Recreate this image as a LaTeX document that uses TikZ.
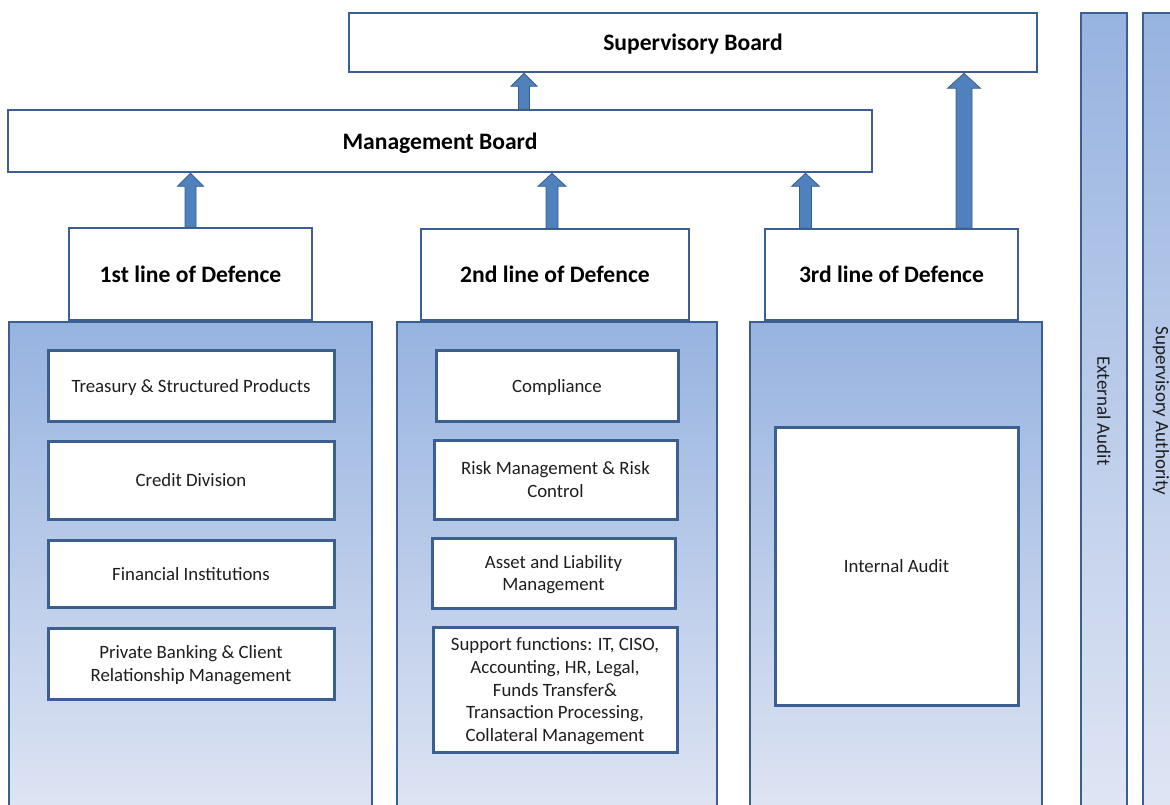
\documentclass[tikz,border=0pt]{standalone}
\usepackage{fontspec}
\setmainfont{Carlito}
\usepackage{tikz}
\usetikzlibrary{calc}

\definecolor{rahmen}{RGB}{60,95,145}
\definecolor{pfeil}{RGB}{79,129,189}
\definecolor{pfeilrand}{RGB}{56,93,138}
\definecolor{verlaufoben}{RGB}{151,179,224}
\definecolor{verlaufunten}{RGB}{226,231,244}
\definecolor{schrift}{RGB}{30,30,30}

\tikzset{
	board/.style={draw=rahmen, line width=2.6pt, fill=white, inner sep=0pt, text depth=0pt, font=\bfseries\fontsize{23.6}{28}\selectfont},
	panel/.style={draw=rahmen, line width=2.6pt, top color=verlaufoben, bottom color=verlaufunten, inner sep=0pt},
	unit/.style={draw=rahmen, line width=3pt, fill=white, text=schrift, align=center, inner sep=0pt, text depth=0pt, font=\fontsize{18.8}{22.8}\selectfont},
	sidetext/.style={rotate=-90, text=schrift, font=\fontsize{19}{22}\selectfont},
	blockarr/.style={fill=pfeil, draw=pfeilrand, line width=0.8pt}
}

% Blockpfeil nach oben: Start, Ziel, halbe Schaftbreite, halbe Spitzenbreite, Spitzenlaenge
\newcommand{\blockarrow}[5]{%
	\filldraw[blockarr] let \p1=(#1), \p2=(#2) in
		(\x1-#3,\y1) -- (\x1-#3,\y2-#5) -- (\x1-#4,\y2-#5) -- (\x1,\y2)
		-- (\x1+#4,\y2-#5) -- (\x1+#3,\y2-#5) -- (\x1+#3,\y1) -- cycle;
}

\begin{document}
\begin{tikzpicture}[x=1pt, y=-1pt]
			\useasboundingbox (0,0) rectangle (1170,804);
			\clip (0,0) rectangle (1170,804);
			
			% Gremien
			\node[board, minimum width=688pt, minimum height=59pt] (sboard) at (693,42.5) {Supervisory Board};
			\node[board, minimum width=864pt, minimum height=62pt] (mgmt) at (440,141) {Management Board};
			
			% Saeulen
			\node[panel, minimum width=363pt, minimum height=518pt] (col1) at (190.5,581) {};
			\node[panel, minimum width=320pt, minimum height=518pt] (col2) at (557,581) {};
			\node[panel, minimum width=292pt, minimum height=518pt] (col3) at (896,581) {};
			
			% Verteidigungslinien
			\node[board, minimum width=243pt, minimum height=92pt] (line1) at (190.5,274) {1st line of Defence};
			\node[board, minimum width=268pt, minimum height=91pt] (line2) at (555,274.5) {2nd line of Defence};
			\node[board, minimum width=253pt, minimum height=91pt] (line3) at (891.5,274.5) {3rd line of Defence};
			
			% 1. Linie
			\node[unit, minimum width=286pt, minimum height=71pt] (treasury) at (191,385.5) {Treasury \& Structured Products};
			\node[unit, minimum width=286pt, minimum height=78pt] (credit) at (191,480) {Credit Division};
			\node[unit, minimum width=286pt, minimum height=67pt] (fininst) at (191,573.5) {Financial Institutions};
			\node[unit, minimum width=286pt, minimum height=71pt] (privbank) at (191,663.5) {Private Banking \& Client\\Relationship Management};
			
			% 2. Linie
			\node[unit, minimum width=242pt, minimum height=71pt] (compliance) at (557,385.5) {Compliance};
			\node[unit, minimum width=243pt, minimum height=79pt] (risk) at (555.5,479.5) {Risk Management \& Risk\\Control};
			\node[unit, minimum width=243pt, minimum height=70pt] (alm) at (553.5,573) {Asset and Liability\\Management};
			\node[unit, minimum width=244pt, minimum height=125pt] (support) at (555,689.5) {Support functions: IT, CISO,\\Accounting, HR, Legal,\\Funds Transfer\&\\Transaction Processing,\\Collateral Management};
			
			% 3. Linie
			\node[unit, minimum width=243pt, minimum height=278pt] (intaudit) at (896.5,566) {Internal Audit};
			
			% Externe Stellen
			\node[panel, minimum width=46pt, minimum height=827pt] (extaudit) at (1104,426.5) {};
			\node[panel, minimum width=47pt, minimum height=827pt] (supauth) at (1166.5,426.5) {};
			\node[sidetext] (extlabel) at (1104,411) {External Audit};
			\node[sidetext] (authlabel) at (1161,411) {Supervisory Authority};
			
			% Pfeile
			\blockarrow{line1.north}{mgmt.south}{5.5pt}{13pt}{13pt}
			\blockarrow{$(line2.north)+(-3,0)$}{mgmt.south}{6pt}{14pt}{13pt}
			\blockarrow{$(line3.north)+(-86,0)$}{mgmt.south}{6pt}{14pt}{13pt}
			\blockarrow{$(line3.north)+(72.5,0)$}{sboard.south}{8pt}{16.5pt}{15pt}
			\blockarrow{$(mgmt.north)+(84,0)$}{sboard.south}{5.5pt}{13pt}{13pt}
		\end{tikzpicture}
\end{document}
